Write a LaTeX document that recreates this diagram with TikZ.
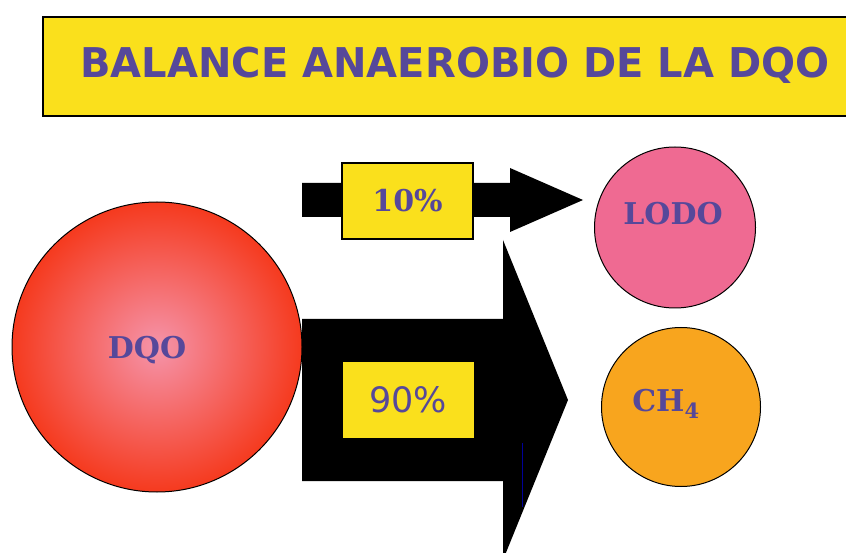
\documentclass[tikz,border=0pt]{standalone}
\usepackage{fontspec}
\setmainfont{DejaVu Serif}
\setsansfont{DejaVu Sans}
\usepackage{tikz}
\usetikzlibrary{positioning, calc}
\definecolor{boxyellow}{HTML}{FAE01C}
\definecolor{inkpurple}{HTML}{56489A}
\definecolor{dqored}{HTML}{F53A1E}
\definecolor{dqopink}{HTML}{F594AA}
\definecolor{lodopink}{HTML}{EF6A92}
\definecolor{chorange}{HTML}{F8A51E}
\tikzset{
    titlebox/.style={rectangle, draw, fill=boxyellow, line width=1.2pt, minimum width=812, minimum height=99, inner sep=0pt},
    titletext/.style={font=\sffamily\bfseries\fontsize{41}{45}\selectfont, text=inkpurple, inner sep=0pt, xscale=0.976},
    pctbox/.style={rectangle, fill=boxyellow, minimum width=131, minimum height=76, inner sep=0pt},
    ballnode/.style={circle, draw, line width=1pt, inner sep=0pt},
    balllabel/.style={font=\bfseries\fontsize{30}{34}\selectfont, text=inkpurple, inner sep=0pt},
    bigarrow/.style={fill=black}
}
\begin{document}
\begin{tikzpicture}[x=1pt, y=-1pt]
\useasboundingbox (0,0) rectangle (846,553);
% title
\node[titlebox] (title) at (449,66.5) {};
\node[titletext] (titlelbl) at (455,65) {BALANCE ANAEROBIO DE LA DQO};
% arrows
\fill[bigarrow] (302,183) -- (510,183) -- (510,168) -- (583,200) -- (510,232) -- (510,217) -- (302,217) -- cycle;
\fill[bigarrow] (302,319) -- (503,319) -- (503,240) -- (568,400) -- (503,560) -- (503,481) -- (302,481) -- cycle;
\draw[blue!60!black, line width=1pt] (522,443) -- (522,507);
% percentages
\node[pctbox, draw, line width=1.2pt] (p10) at (407.5,201) {};
\node[balllabel] at (p10) {10\%};
\node[pctbox] (p90) at (408,400) {};
\node[balllabel, font=\sffamily\fontsize{35}{38}\selectfont] at (p90) {90\%};
% circles
\node[ballnode, minimum size=290, inner color=dqopink, outer color=dqored] (dqo) at (157,347) {};
\node[balllabel] at ($(dqo)+(-10,3)$) {DQO};
\node[ballnode, minimum size=161, fill=lodopink] (lodo) at (675,227.5) {};
\node[balllabel] at ($(lodo)+(-2,-14)$) {LODO};
\node[ballnode, minimum size=159, fill=chorange] (ch4) at (681,407) {};
\node[balllabel] at ($(ch4)+(-15,-3)$) {CH$_{\mathbf 4}$};
\end{tikzpicture}
\end{document}
